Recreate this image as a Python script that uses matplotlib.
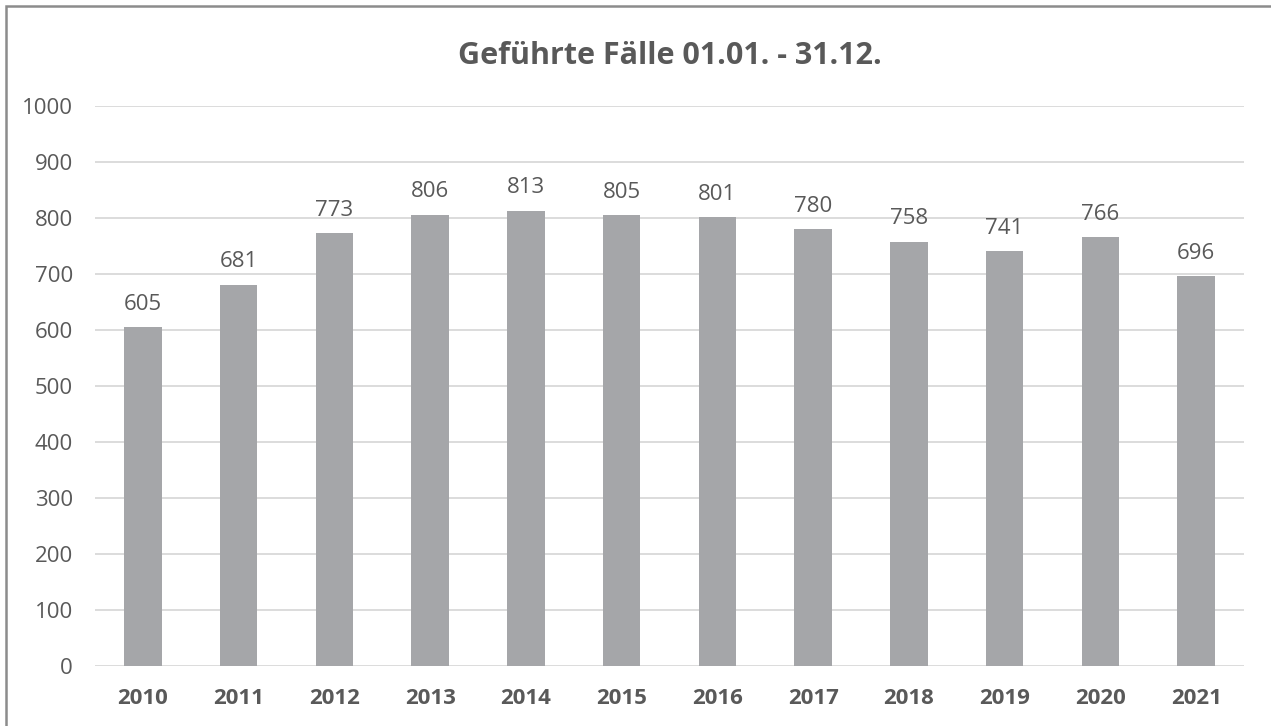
import matplotlib
matplotlib.use('Agg')

import matplotlib.pyplot as plt
from matplotlib.patches import Rectangle

YEARS = ['2010', '2011', '2012', '2013', '2014', '2015',
         '2016', '2017', '2018', '2019', '2020', '2021']
CASES = [605, 681, 773, 806, 813, 805, 801, 780, 758, 741, 766, 696]
Y_TICKS = [0, 100, 200, 300, 400, 500, 600, 700, 800, 900, 1000]

TEXT = '#595959'
BAR = '#A5A6A9'
GRID = '#D9D9D9'

plt.rcParams['font.family'] = ['Open Sans', 'DejaVu Sans']

W, H = 1271, 726
fig = plt.figure(figsize=(W / 100, H / 100), dpi=100)
ax = fig.add_axes([95 / W, 1 - 666 / H, (1244 - 95) / W, (666 - 106) / H])

x = range(len(YEARS))
bars = ax.bar(x, CASES, width=0.39, color=BAR, zorder=2)
for rect, v in zip(bars, CASES):
    ax.annotate(str(v), (rect.get_x() + rect.get_width() / 2, v),
                xytext=(0, 9), textcoords='offset points',
                ha='center', va='bottom', fontsize=16, color=TEXT)

ax.set_xlim(-0.5, len(YEARS) - 0.5)
ax.set_ylim(0, 1000)
ax.set_yticks(Y_TICKS)
ax.set_xticks(list(x))
ax.set_xticklabels(YEARS, fontweight='bold')
ax.yaxis.grid(True, color=GRID, linewidth=1.3, zorder=0)
ax.tick_params(axis='both', length=0, labelsize=16, labelcolor=TEXT)
ax.tick_params(axis='y', pad=16)
ax.tick_params(axis='x', pad=16)
for s in ax.spines.values():
    s.set_visible(False)

fig.text(0.5 * (95 + 1244) / W, 1 - 56 / H, 'Geführte Fälle 01.01. - 31.12.',
         ha='center', va='center', fontsize=22, fontweight='bold', color=TEXT)

fig.patches.append(Rectangle((6 / W, -0.1), 1.2, 1 - 6 / H + 0.1,
                             transform=fig.transFigure, fill=False,
                             edgecolor='#8C8C8C', linewidth=1.8))

fig.savefig('out.png', dpi=100, facecolor='white')
